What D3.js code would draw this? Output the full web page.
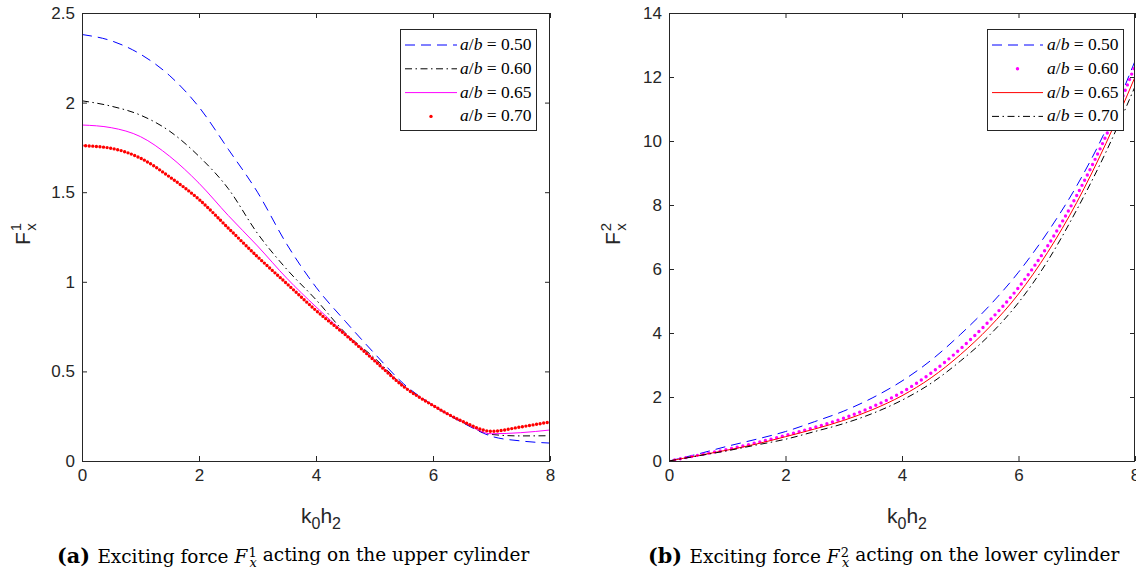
<!DOCTYPE html>
<html>
<head>
<meta charset="utf-8">
<script src="https://cdn.jsdelivr.net/npm/d3@7"></script>
<style>
  body { margin: 0; background: #fff; }
  svg { display: block; }
  .tick text { font-family: "Liberation Sans", Arial, sans-serif; font-size: 17px; fill: #262626; }
  .tick line { stroke: #262626; }
  .lab { font-family: "Liberation Sans", Arial, sans-serif; fill: #262626; }
  .leg { font-family: "Liberation Serif", "Times New Roman", serif; font-size: 17.5px; fill: #000; }
  .cap { font-family: "DejaVu Serif", "Liberation Serif", serif; font-size: 17px; fill: #000; }
</style>
</head>
<body>
<div class="chart"></div>
<script>
const W = 1136
const H = 576

// wave number k0h2
const kh = [0, 0.5, 1, 1.5, 2, 2.5, 3, 3.5, 4, 4.5, 5, 5.5, 6, 6.5, 7, 7.5, 8]

// (a) upper cylinder, F_x^1
const upper50 = [2.38, 2.345, 2.27, 2.15, 1.975, 1.74, 1.50, 1.21, 0.97, 0.78, 0.60, 0.43, 0.31, 0.215, 0.138, 0.112, 0.10]
const upper60 = [2.01, 1.98, 1.93, 1.84, 1.70, 1.52, 1.27, 1.07, 0.90, 0.715, 0.575, 0.42, 0.31, 0.218, 0.148, 0.14, 0.141]
const upper65 = [1.875, 1.86, 1.81, 1.70, 1.55, 1.37, 1.20, 1.02, 0.86, 0.71, 0.565, 0.418, 0.31, 0.22, 0.152, 0.158, 0.173]
const upper70 = [1.76, 1.745, 1.69, 1.585, 1.46, 1.30, 1.14, 0.99, 0.84, 0.705, 0.56, 0.415, 0.31, 0.222, 0.166, 0.19, 0.218]

// (b) lower cylinder, F_x^2
const lower50 = [0, 0.22, 0.46, 0.68, 0.92, 1.23, 1.56, 1.98, 2.50, 3.15, 3.95, 4.85, 5.90, 7.15, 8.60, 10.35, 12.5]
const lower60 = [0, 0.18, 0.36, 0.57, 0.80, 1.05, 1.34, 1.70, 2.15, 2.75, 3.50, 4.38, 5.42, 6.72, 8.30, 10.15, 12.35]
const lower65 = [0, 0.17, 0.34, 0.53, 0.76, 1.00, 1.27, 1.61, 2.04, 2.60, 3.32, 4.18, 5.22, 6.52, 8.08, 9.92, 12.0]
const lower70 = [0, 0.16, 0.32, 0.50, 0.68, 0.92, 1.17, 1.49, 1.90, 2.43, 3.12, 3.93, 4.95, 6.25, 7.85, 9.65, 11.7]

const ratios = ["0.50", "0.60", "0.65", "0.70"]

const xTicks = [0, 2, 4, 6, 8]
const yTicksA = [0, 0.5, 1, 1.5, 2, 2.5]
const yTicksB = [0, 2, 4, 6, 8, 10, 12, 14]

// line styles
const dashed = { color: "#0000ff", dash: "10 6", width: 1 }
const dashdot = { color: "#000", dash: "7 3.5 1.5 3.5", width: 1 }
const dotRed = { color: "#ff0000", dash: "0 3.6", width: 3.4, dots: true }
const dotMag = { color: "#ff00ff", dash: "0 5.8", width: 3.4, dots: true }
const solidMag = { color: "#ff00ff", dash: null, width: 1 }
const solidRed = { color: "#ff0000", dash: null, width: 1 }

var svg = d3.select('.chart').append('svg')
    .attr("width", W)
    .attr("height", H)

panel({
    id: "a", left: 82, right: 550, top: 13, bottom: 461,
    ymax: 2.5, yticks: yTicksA,
    series: [upper50, upper60, upper65, upper70],
    styles: [dashed, dashdot, solidMag, dotRed],
    legend: { x0: 400, x1: 536, sx0: 405, sx1: 457, tx: 460 },
    ylabelX: 30, sup: "1", caption: "acting on the upper cylinder", capX: 57, capW: 471
})

panel({
    id: "b", left: 669, right: 1135, top: 13, bottom: 461,
    ymax: 14, yticks: yTicksB,
    series: [lower50, lower60, lower65, lower70],
    styles: [dashed, dotMag, solidRed, dashdot],
    legend: { x0: 987, x1: 1123, sx0: 992, sx1: 1043, tx: 1047 },
    ylabelX: 620, sup: "2", caption: "acting on the lower cylinder", capX: 648, capW: 470
})

function panel(p) {
    const x = d3.scaleLinear().domain([0, 8]).range([p.left, p.right])
    const y = d3.scaleLinear().domain([0, p.ymax]).range([p.bottom, p.top])
    const g = svg.append("g")

    g.append("clipPath").attr("id", "clip" + p.id)
      .append("rect")
        .attr("x", p.left).attr("y", p.top)
        .attr("width", p.right - p.left).attr("height", p.bottom - p.top)

    // curves
    const line = d3.line()
        .x((d, i) => x(kh[i]))
        .y(d => y(d))
        .curve(d3.curveMonotoneX)

    p.series.forEach((s, i) => {
        const st = p.styles[i]
        g.append("path")
            .attr("clip-path", `url(#clip${p.id})`)
            .attr("d", line(s))
            .attr("fill", "none")
            .attr("stroke", st.color)
            .attr("stroke-width", st.width)
            .attr("stroke-dasharray", st.dash)
            .attr("stroke-linecap", st.dots ? "round" : "butt")
    })

    // axes (ticks inside, box on)
    g.append("g")
        .attr("transform", `translate(0,${p.bottom})`)
        .call(d3.axisBottom(x).tickValues(xTicks).tickSizeInner(-5).tickSizeOuter(0).tickPadding(8).tickFormat(d3.format("")))
    g.append("g")
        .attr("transform", `translate(0,${p.top})`)
        .call(d3.axisTop(x).tickValues(xTicks).tickSizeInner(-5).tickSizeOuter(0).tickFormat(""))
    g.append("g")
        .attr("transform", `translate(${p.left},0)`)
        .call(d3.axisLeft(y).tickValues(p.yticks).tickSizeInner(-5).tickSizeOuter(0).tickPadding(7).tickFormat(d3.format("")))
    g.append("g")
        .attr("transform", `translate(${p.right},0)`)
        .call(d3.axisRight(y).tickValues(p.yticks).tickSizeInner(-5).tickSizeOuter(0).tickFormat(""))
    g.selectAll(".domain").remove()

    g.append("rect")
        .attr("x", p.left + 0.5).attr("y", p.top + 0.5)
        .attr("width", p.right - p.left - 1).attr("height", p.bottom - p.top)
        .attr("fill", "none").attr("stroke", "#262626")

    // legend
    const L = p.legend
    g.append("rect")
        .attr("x", L.x0 + 0.5).attr("y", 29.5)
        .attr("width", L.x1 - L.x0).attr("height", 101)
        .attr("fill", "#fff").attr("stroke", "#262626")
    ratios.forEach((r, i) => {
        const st = p.styles[i]
        const cy = 45 + i * 23.8
        if (st.dots) {
            g.append("circle")
                .attr("cx", (L.sx0 + L.sx1) / 2).attr("cy", cy)
                .attr("r", st.width / 2).attr("fill", st.color)
        } else {
            g.append("line")
                .attr("x1", L.sx0).attr("x2", L.sx1)
                .attr("y1", cy).attr("y2", cy)
                .attr("stroke", st.color)
                .attr("stroke-width", st.width)
                .attr("stroke-dasharray", st.dash)
        }
        const t = g.append("text").attr("class", "leg")
            .attr("x", L.tx).attr("y", cy + 5)
        t.append("tspan").attr("font-style", "italic").text("a")
        t.append("tspan").text("/")
        t.append("tspan").attr("font-style", "italic").text("b")
        t.append("tspan").text(" = " + r)
    })

    // y label F_x^n
    const cy = (p.top + p.bottom) / 2
    const yl = g.append("text").attr("class", "lab")
        .attr("transform", `translate(${p.ylabelX},${cy + 8}) rotate(-90)`)
        .attr("font-size", 21)
    yl.append("tspan").text("F")
    yl.append("tspan").attr("font-size", 15).attr("dx", 1).attr("dy", -9).text(p.sup)
    yl.append("tspan").attr("font-size", 15).attr("dx", -8).attr("dy", 15).text("x")

    // x label k0h2
    const xl = g.append("text").attr("class", "lab")
        .attr("x", (p.left + p.right) / 2 + 5).attr("y", 523)
        .attr("text-anchor", "middle")
        .attr("font-size", 21)
    xl.append("tspan").text("k")
    xl.append("tspan").attr("font-size", 16).attr("dy", 6).text("0")
    xl.append("tspan").attr("dy", -6).text("h")
    xl.append("tspan").attr("font-size", 16).attr("dy", 6).text("2")

    // caption
    const c = g.append("text").attr("class", "cap")
        .attr("x", p.capX).attr("y", 563)
    c.append("tspan").attr("font-weight", "bold").attr("font-size", "1.12em").text("(" + p.id + ")")
    c.append("tspan").attr("dx", "0.4em").text("Exciting force ")
    c.append("tspan").attr("font-style", "italic").text("F")
    c.append("tspan").attr("font-size", "0.7em").attr("dx", "0.1em").attr("dy", "-0.45em").text(p.sup)
    c.append("tspan").attr("font-size", "0.7em").attr("font-style", "italic").attr("dx", "-0.55em").attr("dy", "0.75em").text("x")
    c.append("tspan").attr("dy", "-0.3em").text(" " + p.caption)
    // fit the caption to the width it takes in the figure
    const w = c.node().getComputedTextLength()
    c.style("font-size", (17 * p.capW / w) + "px")
}
</script>
</body>
</html>
